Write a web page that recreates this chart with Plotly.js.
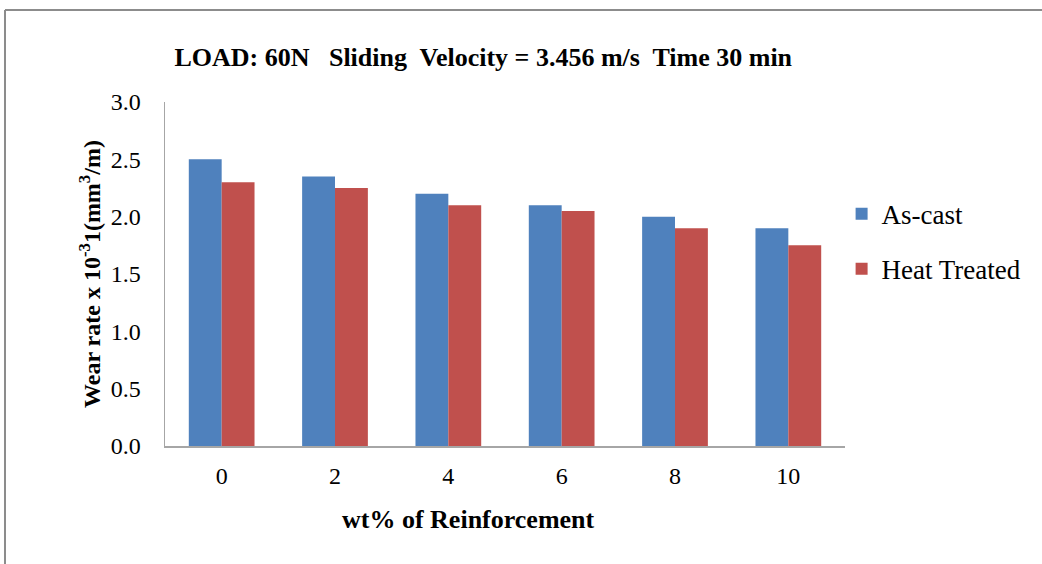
<!DOCTYPE html>
<html>
<head>
<meta charset="utf-8">
<script src="https://cdn.plot.ly/plotly-3.0.1.min.js"></script>
<style>html,body{margin:0;padding:0;background:#fff;}#chart{width:1042px;height:564px;}</style>
</head>
<body>
<div id="chart"></div>
<script>
const categories = ["0", "2", "4", "6", "8", "10"];
const asCast = [2.5, 2.35, 2.2, 2.1, 2.0, 1.9];
const heatTreated = [2.3, 2.25, 2.1, 2.05, 1.9, 1.75];
const yTicks = [0, 0.5, 1.0, 1.5, 2.0, 2.5, 3.0];
const yTickLabels = ["0.0", "0.5", "1.0", "1.5", "2.0", "2.5", "3.0"];
const xTitle = "wt% of Reinforcement";

const serif = "Liberation Serif, Times New Roman, serif";

const traces = [
  {type: "bar", name: "As-cast", x: categories, y: asCast, marker: {color: "#4f81bd"}, legendgroup: "a"},
  {type: "bar", name: "Heat Treated", x: categories, y: heatTreated, marker: {color: "#c0504d"}, legendgroup: "b"}
];

const layout = {
  width: 1042, height: 564,
  margin: {l: 165, r: 197, t: 102, b: 118},
  paper_bgcolor: "#fff", plot_bgcolor: "#fff",
  barmode: "group", bargap: 0.42, bargroupgap: 0,
  font: {family: serif, color: "#000"},
  title: {
    text: "<b>LOAD: 60N   Sliding  Velocity = 3.456 m/s  Time 30 min</b>",
    font: {family: serif, size: 26, color: "#000"},
    x: 0.468, xanchor: "center", xref: "paper",
    y: 1 - 57/564, yanchor: "middle"
  },
  xaxis: {
    type: "category",
    showgrid: false, zeroline: false,
    showline: true, linecolor: "#a6a6a6", linewidth: 1.5,
    ticks: "", ticklabelstandoff: 8,
    tickfont: {family: serif, size: 24, color: "#000"}
  },
  yaxis: {
    range: [0, 3], tickvals: yTicks, ticktext: yTickLabels,
    showgrid: false, zeroline: false,
    showline: true, linecolor: "#a6a6a6", linewidth: 1.5,
    ticks: "", ticklabelstandoff: 18,
    tickfont: {family: serif, size: 24, color: "#000"},
    title: {text: "<b>Wear rate x 10<sup>-3</sup>1(mm<sup>3</sup>/m)</b>", font: {family: serif, size: 24, color: "#000"}, standoff: 3}
  },
  legend: {
    x: 0.995, xanchor: "left", y: 0.745, yanchor: "top",
    font: {family: serif, size: 27, color: "#000"},
    tracegroupgap: 17, bgcolor: "rgba(0,0,0,0)"
  },
  showlegend: true,
  annotations: [
    {text: "<b>" + xTitle + "</b>", xref: "paper", yref: "paper", x: 0.4456, y: -0.215,
     xanchor: "center", yanchor: "middle", showarrow: false,
     font: {family: serif, size: 26, color: "#000"}}
  ],
  shapes: [
    {type: "line", xref: "paper", yref: "paper", x0: -0.2353, x1: 1.3, y0: 1.2674, y1: 1.2674, line: {color: "#8c8c8c", width: 2}},
    {type: "line", xref: "paper", yref: "paper", x0: -0.2353, x1: -0.2353, y0: 1.2674, y1: -0.4, line: {color: "#8c8c8c", width: 2}}
  ]
};

Plotly.newPlot("chart", traces, layout, {displayModeBar: false, staticPlot: true});
</script>
</body>
</html>
